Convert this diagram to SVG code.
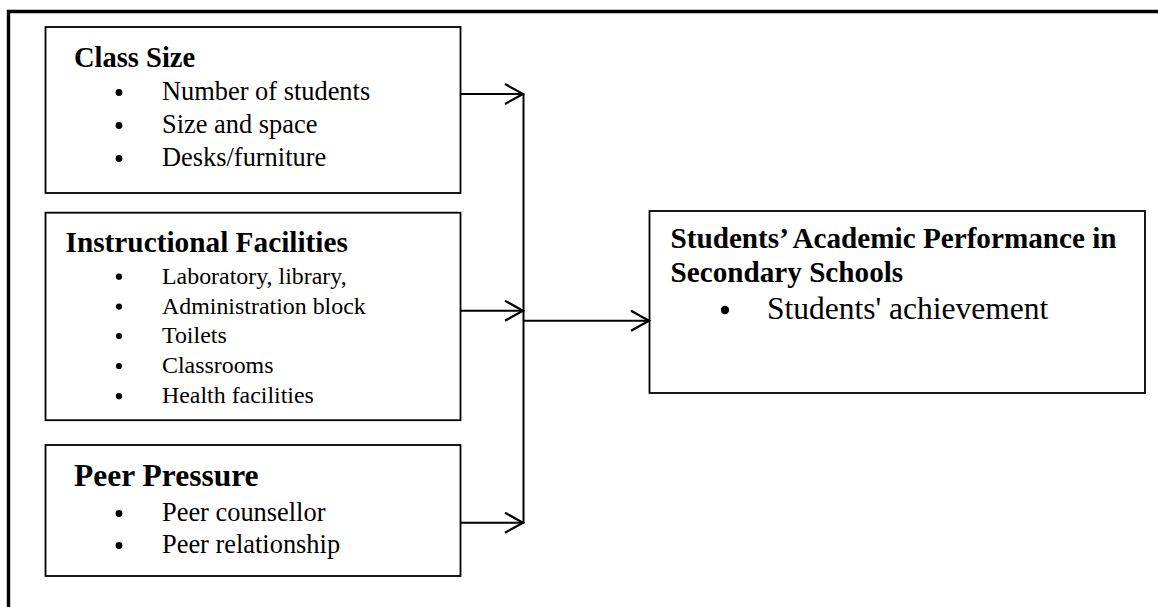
<svg xmlns="http://www.w3.org/2000/svg" width="1158" height="607" viewBox="0 0 1158 607">
  <style>
    .box { fill: #ffffff; stroke: #000000; stroke-width: 1.8; }
    .frame { fill: none; stroke: #000000; stroke-width: 3.4; }
    .wire { fill: none; stroke: #000000; stroke-width: 2; }
    .dot { fill: #000000; }
    text { font-family: "Liberation Serif", "Times New Roman", serif; fill: #000000; }
    .head { font-weight: bold; }
  </style>
  <defs>
    <marker id="chevron" markerUnits="userSpaceOnUse" markerWidth="24" markerHeight="26" refX="19" refY="11" orient="auto">
      <path d="M1,1 L19,11 L1,21" fill="none" stroke="#000000" stroke-width="2.2"/>
    </marker>
  </defs>

  <rect width="1158" height="607" fill="#ffffff"/>

  <!-- outer frame, running off the right and bottom edges -->
  <path class="frame" d="M8.5,620 V11.5 H1170"/>

  <g id="class-size">
    <rect class="box" x="45.5" y="27" width="415" height="166"/>
    <text class="head" x="74" y="67" font-size="28.5">Class Size</text>
    <g class="dot">
      <circle cx="119" cy="92.5" r="3.4"/>
      <circle cx="119" cy="125.5" r="3.4"/>
      <circle cx="119" cy="158.5" r="3.4"/>
    </g>
    <g font-size="26.4">
      <text x="162" y="100">Number of students</text>
      <text x="162" y="133">Size and space</text>
      <text x="162" y="166">Desks/furniture</text>
    </g>
  </g>

  <g id="instructional-facilities">
    <rect class="box" x="45.5" y="212.7" width="415" height="207.5"/>
    <text class="head" x="65.5" y="252" font-size="29.3">Instructional Facilities</text>
    <g class="dot">
      <circle cx="119" cy="276.7" r="3.1"/>
      <circle cx="119" cy="306.6" r="3.1"/>
      <circle cx="119" cy="336" r="3.1"/>
      <circle cx="119" cy="366" r="3.1"/>
      <circle cx="119" cy="396.2" r="3.1"/>
    </g>
    <g font-size="23.9">
      <text x="162" y="283.7">Laboratory, library,</text>
      <text x="162" y="313.6">Administration block</text>
      <text x="162" y="343">Toilets</text>
      <text x="162" y="373">Classrooms</text>
      <text x="162" y="403.2">Health facilities</text>
    </g>
  </g>

  <g id="peer-pressure">
    <rect class="box" x="45.5" y="445" width="415" height="131"/>
    <text class="head" x="74" y="486.4" font-size="31.5">Peer Pressure</text>
    <g class="dot">
      <circle cx="119" cy="513.5" r="3.4"/>
      <circle cx="119" cy="545.5" r="3.4"/>
    </g>
    <g font-size="26.4">
      <text x="162" y="521">Peer counsellor</text>
      <text x="162" y="553">Peer relationship</text>
    </g>
  </g>

  <g id="academic-performance">
    <rect class="box" x="649.5" y="211" width="495.5" height="182" stroke-width="2"/>
    <g class="head" font-size="29.2">
      <text x="670.5" y="248.3">Students’ Academic Performance in</text>
      <text x="670.5" y="281.7">Secondary Schools</text>
    </g>
    <circle class="dot" cx="725" cy="310" r="4.2"/>
    <text x="767" y="319" font-size="31.5">Students' achievement</text>
  </g>

  <g id="connectors">
    <line class="wire" x1="460.5" y1="94" x2="523" y2="94" marker-end="url(#chevron)"/>
    <line class="wire" x1="460.5" y1="310.7" x2="523" y2="310.7" marker-end="url(#chevron)"/>
    <line class="wire" x1="460.5" y1="522.7" x2="523" y2="522.7" marker-end="url(#chevron)"/>
    <line class="wire" x1="523.5" y1="94" x2="523.5" y2="523.5"/>
    <line class="wire" x1="523.5" y1="320.7" x2="649" y2="320.7" marker-end="url(#chevron)"/>
  </g>
</svg>
